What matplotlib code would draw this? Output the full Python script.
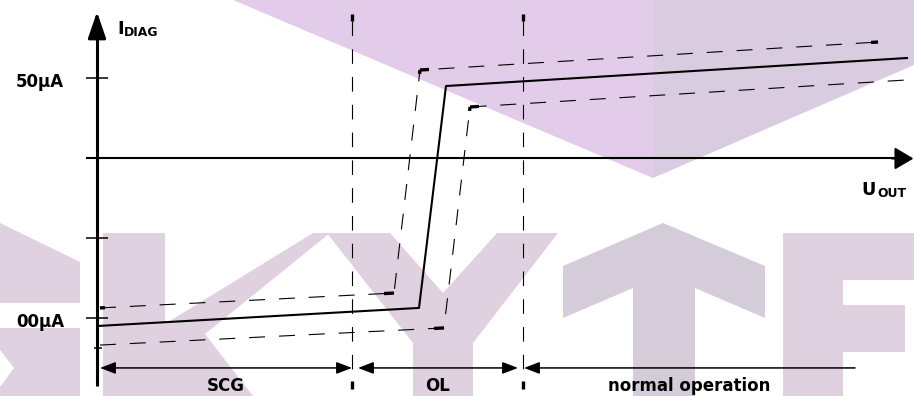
import matplotlib
matplotlib.use("Agg")
import matplotlib.pyplot as plt
from matplotlib.patches import Polygon, Rectangle

plt.rcParams['font.family'] = ['DejaVu Sans']
plt.rcParams['lines.scale_dashes'] = False

# U_OUT in arbitrary units, I_DIAG in µA
solid_u = [0.0, 32.2, 34.9, 81.0]
solid_i = [-104.7, -93.4, 45.3, 62.8]

upper_u = [0.3, 29.7, 32.3, 78.1]
upper_i = [-93.4, -84.1, 55.3, 72.8]

lower_u = [0.3, 34.7, 37.3, 81.0]
lower_i = [-116.6, -105.9, 32.2, 49.1]

borders_u = [25.5, 42.6]              # SCG | OL | normal operation
ticks_i = [50, 0, -50, -100]
tick_labels = {50: '50µA', -100: '00µA'}
small_tick_i = -118.4

regions = [('SCG', 0.3, 25.5, True), ('OL', 26.1, 42.1, True),
           ('normal operation', 42.7, 75.8, False)]

PX_U = 10.0   # pixels per U unit
PX_I = 1.6    # pixels per µA

fig = plt.figure(figsize=(9.14, 3.96), dpi=100)

# watermark in the background (pixel coordinates)
bg = fig.add_axes([0, 0, 1, 1])
bg.set_xlim(0, 914)
bg.set_ylim(396, 0)
bg.axis('off')
wm_light = '#dfd1e0'
wm_dark = '#d5ccd9'
bg.add_patch(Polygon([(233, 0), (653, 0), (653, 178)], color='#e3ccea', lw=0))
bg.add_patch(Polygon([(653, 0), (914, 0), (914, 65), (653, 178)], color='#d9cce0', lw=0))
bg.add_patch(Polygon([(0, 223), (80, 262), (80, 396), (0, 396)], color=wm_light, lw=0))
bg.add_patch(Polygon([(0, 350), (14, 368), (0, 387)], color='white', lw=0))
bg.add_patch(Polygon([(103, 233), (165, 233), (165, 324), (313, 233), (330, 233),
                      (205, 334), (253, 396), (103, 396)], color=wm_light, lw=0))
bg.add_patch(Polygon([(327, 233), (390, 233), (443, 293), (497, 233), (558, 233),
                      (473, 343), (473, 396), (413, 396), (413, 343)], color=wm_light, lw=0))
bg.add_patch(Polygon([(563, 266), (663, 223), (765, 266), (765, 318), (695, 288),
                      (695, 396), (633, 396), (633, 288), (563, 318)], color=wm_dark, lw=0))
bg.add_patch(Polygon([(783, 233), (914, 233), (914, 280), (843, 280), (843, 305),
                      (905, 305), (905, 352), (843, 352), (843, 396), (783, 396)],
                     color=wm_light, lw=0))
bg.add_patch(Rectangle((0, 303), 83, 25, color='white', lw=0))

ax = fig.add_axes([0, 0, 1, 1])
ax.patch.set_alpha(0)
ax.set_xlim(-9.7, 81.7)
ax.set_ylim(-148.44, 99.06)
ax.axis('off')

# axes with arrows
ax.plot([0, 0], [-142.2, 80], color='black', lw=2.2, solid_capstyle='butt')
ax.annotate('', xy=(0, 91.6), xytext=(0, 76),
            arrowprops=dict(arrowstyle='-|>,head_length=1.6,head_width=0.55',
                            mutation_scale=10, color='black', lw=2.2,
                            shrinkA=0, shrinkB=0))
ax.plot([-1.1, 80.5], [0, 0], color='black', lw=1.5, solid_capstyle='butt')
ax.annotate('', xy=(81.65, 0), xytext=(79.5, 0),
            arrowprops=dict(arrowstyle='-|>,head_length=1.15,head_width=0.68',
                            mutation_scale=10, color='black', lw=1.5,
                            shrinkA=0, shrinkB=0))

ax.hlines(ticks_i, -1.1, 1.1, color='black', lw=1.1)
ax.hlines([small_tick_i], -0.3, 0.5, color='black', lw=1.1)
for val, lab in tick_labels.items():
    ax.text(-3.3, val - 5.3, lab, ha='right', va='baseline', fontsize=12,
            fontweight='bold')

ax.text(2.0, 77.5, 'I', ha='left', va='baseline', fontsize=12.8, fontweight='bold')
ax.text(2.7, 76.6, 'DIAG', ha='left', va='baseline', fontsize=8.9, fontweight='bold')
ax.text(76.4, -22.8, 'U', ha='left', va='baseline', fontsize=12.8, fontweight='bold')
ax.text(78.0, -24.1, 'OUT', ha='left', va='baseline', fontsize=8.9, fontweight='bold')


def piece(us, is_, k, size, at_end):
    # first (or last) `size` pixels of segment k
    du = us[k + 1] - us[k]
    di = is_[k + 1] - is_[k]
    length = ((du * PX_U) ** 2 + (di * PX_I) ** 2) ** 0.5
    f = size / length
    if at_end:
        fracs = (1 - f, 1)
    else:
        fracs = (0, f)
    return ([us[k] + t * du for t in fracs], [is_[k] + t * di for t in fracs])


# characteristic curves
ax.plot(solid_u, solid_i, color='black', lw=1.5)
upper_marks = [(0, 5, False), (0, 10, True), (1, 4, True), (2, 9, False), (2, 7, True)]
lower_marks = [(0, 10, True), (1, 4, True), (2, 9, False)]
for us, is_, marks in [(upper_u, upper_i, upper_marks), (lower_u, lower_i, lower_marks)]:
    ax.plot(us, is_, color='black', lw=0.8, dashes=(11.5, 10.0))
    for k, size, at_end in marks:
        pu, pi = piece(us, is_, k, size, at_end)
        ax.plot(pu, pi, color='black', lw=2.4, solid_capstyle='butt')

# region borders
for u in borders_u:
    ax.plot([u, u], [86.0, -139.0], color='black', lw=0.8, dashes=(10.5, 9.5))
    ax.plot([u, u], [90.3, 86.0], color='black', lw=2.4, solid_capstyle='butt')
    ax.plot([u, u], [-139.1, -144.0], color='black', lw=2.4, solid_capstyle='butt')

# region arrows and names
for name, u0, u1, both in regions:
    style = '<|-|>' if both else '<|-'
    ax.annotate('', xy=(u1, -130.9), xytext=(u0, -130.9),
                arrowprops=dict(arrowstyle=style + ',head_length=0.94,head_width=0.36',
                                mutation_scale=10, color='black', lw=1.1,
                                shrinkA=0, shrinkB=0))
    ax.text((u0 + u1) / 2, -145.3, name, ha='center', va='baseline', fontsize=12,
            fontweight='bold')

fig.savefig('out.png', dpi=100)
